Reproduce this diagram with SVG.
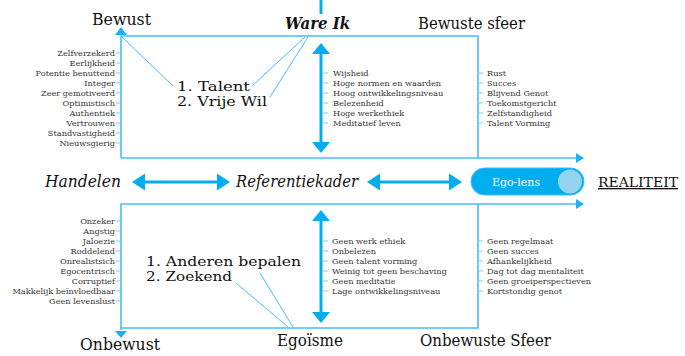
<svg xmlns="http://www.w3.org/2000/svg" width="685" height="356" viewBox="0 0 685 356">
<style>
.t{font-family:"DejaVu Serif","Liberation Serif",serif;fill:#111}
.big{font-size:16px}
.mid{font-size:13px}
.sm{font-size:8.2px;fill:#333}
.it{font-style:italic}
.box{fill:none;stroke:#45c0f5;stroke-width:1.6}
.thin{stroke:#45c0f5;stroke-width:1}
.tick{stroke:#7fd0f5;stroke-width:1}
.arr{stroke:#00aeef;stroke-width:3}
.head{fill:#00aeef}
.shead{fill:#1ab2f0}
</style>
<g id="connectors">
 <polyline class="box" points="121,158 121,36 478,36 478,158"/>
 <line class="box" x1="121" y1="158" x2="578" y2="158"/>
 <polygon class="shead" points="584,158 576,153 576,163"/>
 <polygon class="shead" points="121,27 115,35 127,35"/>
 <polyline class="box" points="121,330 121,204 578,204"/>
 <polygon class="shead" points="584,204 576,199 576,209"/>
 <polyline class="box" points="121,328 478,328 478,204"/>
 <polygon class="shead" points="121,338 115,331 127,331"/>
 <line class="arr" x1="321" y1="0" x2="321" y2="14"/>
 <line class="arr" x1="321" y1="50" x2="321" y2="146"/>
 <polygon class="head" points="321,43 312,54 330,54"/>
 <polygon class="head" points="321,153 312,142 330,142"/>
 <line class="arr" x1="321" y1="217" x2="321" y2="316"/>
 <polygon class="head" points="321,210 312,221 330,221"/>
 <polygon class="head" points="321,323 312,312 330,312"/>
 <line class="arr" x1="140" y1="182" x2="222" y2="182"/>
 <polygon class="head" points="132,182 145,173.5 145,190.5"/>
 <polygon class="head" points="230,182 217,173.5 217,190.5"/>
 <line class="arr" x1="375" y1="182" x2="454" y2="182"/>
 <polygon class="head" points="367,182 380,173.5 380,190.5"/>
 <polygon class="head" points="462,182 449,173.5 449,190.5"/>
 <line class="thin" x1="122" y1="37" x2="173" y2="86"/>
 <line class="thin" x1="305" y1="37" x2="252" y2="86"/>
 <line class="thin" x1="308" y1="37" x2="270" y2="97"/>
 <line class="thin" x1="293" y1="327" x2="260" y2="273"/>
 <line class="thin" x1="288" y1="327" x2="236" y2="283"/>
</g>
<g id="labels">
 <text class="t big" x="92" y="25" textLength="59" lengthAdjust="spacingAndGlyphs">Bewust</text>
 <text class="t" x="285" y="29" font-size="16" font-weight="bold" font-style="italic" textLength="65" lengthAdjust="spacingAndGlyphs">Ware Ik</text>
 <text class="t big" x="418" y="29" textLength="107" lengthAdjust="spacingAndGlyphs">Bewuste sfeer</text>
 <text class="t big" x="80" y="350" textLength="80" lengthAdjust="spacingAndGlyphs">Onbewust</text>
 <text class="t big" x="277" y="346" textLength="66" lengthAdjust="spacingAndGlyphs">Egoïsme</text>
 <text class="t big" x="420" y="346" textLength="131" lengthAdjust="spacingAndGlyphs">Onbewuste Sfeer</text>
 <text class="t big it" x="45" y="187" textLength="76" lengthAdjust="spacingAndGlyphs">Handelen</text>
 <text class="t big it" x="236" y="187" textLength="122" lengthAdjust="spacingAndGlyphs">Referentiekader</text>
 <text class="t" x="598" y="187" font-size="13" text-decoration="underline" textLength="80" lengthAdjust="spacingAndGlyphs">REALITEIT</text>
</g>
<g id="node-talent">
 <text class="t mid" x="177" y="90.5" textLength="73" lengthAdjust="spacingAndGlyphs">1. Talent</text>
 <text class="t mid" x="177" y="105.5" textLength="90" lengthAdjust="spacingAndGlyphs">2. Vrije Wil</text>
</g>
<g id="node-anderen">
 <text class="t mid" x="146" y="265.5" textLength="155" lengthAdjust="spacingAndGlyphs">1. Anderen bepalen</text>
 <text class="t mid" x="146" y="280.5" textLength="86" lengthAdjust="spacingAndGlyphs">2. Zoekend</text>
</g>
<g id="node-egolens">
 <rect x="471" y="168" width="113" height="27" rx="13.5" fill="#00aeef" stroke="#3fc0f3" stroke-width="1"/>
 <circle cx="570" cy="181.5" r="12" fill="#93d3ee"/>
 <text class="t" x="516" y="185.5" font-size="11" style="fill:#fff" text-anchor="middle">Ego-lens</text>
</g>
<g id="list-top-left" text-anchor="end">
 <g class="tick">
  <line x1="116" y1="53" x2="121" y2="53"/><line x1="116" y1="63" x2="121" y2="63"/><line x1="116" y1="73" x2="121" y2="73"/><line x1="116" y1="83" x2="121" y2="83"/><line x1="116" y1="93" x2="121" y2="93"/><line x1="116" y1="103" x2="121" y2="103"/><line x1="116" y1="113" x2="121" y2="113"/><line x1="116" y1="123" x2="121" y2="123"/><line x1="116" y1="133" x2="121" y2="133"/><line x1="116" y1="143" x2="121" y2="143"/>
 </g>
 <text class="t sm" x="115" y="56">Zelfverzekerd</text>
 <text class="t sm" x="115" y="66">Eerlijkheid</text>
 <text class="t sm" x="115" y="76">Potentie benuttend</text>
 <text class="t sm" x="115" y="86">Integer</text>
 <text class="t sm" x="115" y="96">Zeer gemotiveerd</text>
 <text class="t sm" x="115" y="106">Optimistisch</text>
 <text class="t sm" x="115" y="116">Authentiek</text>
 <text class="t sm" x="115" y="126">Vertrouwen</text>
 <text class="t sm" x="115" y="136">Standvastigheid</text>
 <text class="t sm" x="115" y="146">Nieuwsgierig</text>
</g>
<g id="list-top-mid">
 <g class="tick">
  <line x1="323" y1="73" x2="328" y2="73"/><line x1="323" y1="83" x2="328" y2="83"/><line x1="323" y1="93" x2="328" y2="93"/><line x1="323" y1="103" x2="328" y2="103"/><line x1="323" y1="113" x2="328" y2="113"/><line x1="323" y1="123" x2="328" y2="123"/>
 </g>
 <text class="t sm" x="333" y="76">Wijsheid</text>
 <text class="t sm" x="333" y="86">Hoge normen en waarden</text>
 <text class="t sm" x="333" y="96">Hoog ontwikkelingsniveau</text>
 <text class="t sm" x="333" y="106">Belezenheid</text>
 <text class="t sm" x="333" y="116">Hoge werkethiek</text>
 <text class="t sm" x="333" y="126">Meditatief leven</text>
</g>
<g id="list-top-right">
 <g class="tick">
  <line x1="478" y1="73" x2="483" y2="73"/><line x1="478" y1="83" x2="483" y2="83"/><line x1="478" y1="93" x2="483" y2="93"/><line x1="478" y1="103" x2="483" y2="103"/><line x1="478" y1="113" x2="483" y2="113"/><line x1="478" y1="123" x2="483" y2="123"/>
 </g>
 <text class="t sm" x="487" y="76">Rust</text>
 <text class="t sm" x="487" y="86">Succes</text>
 <text class="t sm" x="487" y="96">Blijvend Genot</text>
 <text class="t sm" x="487" y="106">Toekomstgericht</text>
 <text class="t sm" x="487" y="116">Zelfstandigheid</text>
 <text class="t sm" x="487" y="126">Talent Vorming</text>
</g>
<g id="list-bottom-left" text-anchor="end">
 <g class="tick">
  <line x1="116" y1="221" x2="121" y2="221"/><line x1="116" y1="231" x2="121" y2="231"/><line x1="116" y1="241" x2="121" y2="241"/><line x1="116" y1="251" x2="121" y2="251"/><line x1="116" y1="261" x2="121" y2="261"/><line x1="116" y1="271" x2="121" y2="271"/><line x1="116" y1="281" x2="121" y2="281"/><line x1="116" y1="291" x2="121" y2="291"/><line x1="116" y1="301" x2="121" y2="301"/>
 </g>
 <text class="t sm" x="115" y="224">Onzeker</text>
 <text class="t sm" x="115" y="234">Angstig</text>
 <text class="t sm" x="115" y="244">Jaloezie</text>
 <text class="t sm" x="115" y="254">Roddelend</text>
 <text class="t sm" x="115" y="264">Onrealistsich</text>
 <text class="t sm" x="115" y="274">Egocentrisch</text>
 <text class="t sm" x="115" y="284">Corruptief</text>
 <text class="t sm" x="115" y="294">Makkelijk beïnvloedbaar</text>
 <text class="t sm" x="115" y="304">Geen levenslust</text>
</g>
<g id="list-bottom-mid">
 <g class="tick">
  <line x1="323" y1="241" x2="328" y2="241"/><line x1="323" y1="251" x2="328" y2="251"/><line x1="323" y1="261" x2="328" y2="261"/><line x1="323" y1="271" x2="328" y2="271"/><line x1="323" y1="281" x2="328" y2="281"/><line x1="323" y1="291" x2="328" y2="291"/>
 </g>
 <text class="t sm" x="332" y="244">Geen werk ethiek</text>
 <text class="t sm" x="332" y="254">Onbelezen</text>
 <text class="t sm" x="332" y="264">Geen talent vorming</text>
 <text class="t sm" x="332" y="274">Weinig tot geen beschaving</text>
 <text class="t sm" x="332" y="284">Geen meditatie</text>
 <text class="t sm" x="332" y="294">Lage ontwikkelingsniveau</text>
</g>
<g id="list-bottom-right">
 <g class="tick">
  <line x1="478" y1="241" x2="483" y2="241"/><line x1="478" y1="251" x2="483" y2="251"/><line x1="478" y1="261" x2="483" y2="261"/><line x1="478" y1="271" x2="483" y2="271"/><line x1="478" y1="281" x2="483" y2="281"/><line x1="478" y1="291" x2="483" y2="291"/>
 </g>
 <text class="t sm" x="487" y="244">Geen regelmaat</text>
 <text class="t sm" x="487" y="254">Geen succes</text>
 <text class="t sm" x="487" y="264">Afhankelijkheid</text>
 <text class="t sm" x="487" y="274">Dag tot dag mentaliteit</text>
 <text class="t sm" x="487" y="284">Geen groeiperspectieven</text>
 <text class="t sm" x="487" y="294">Kortstondig genot</text>
</g>
</svg>
